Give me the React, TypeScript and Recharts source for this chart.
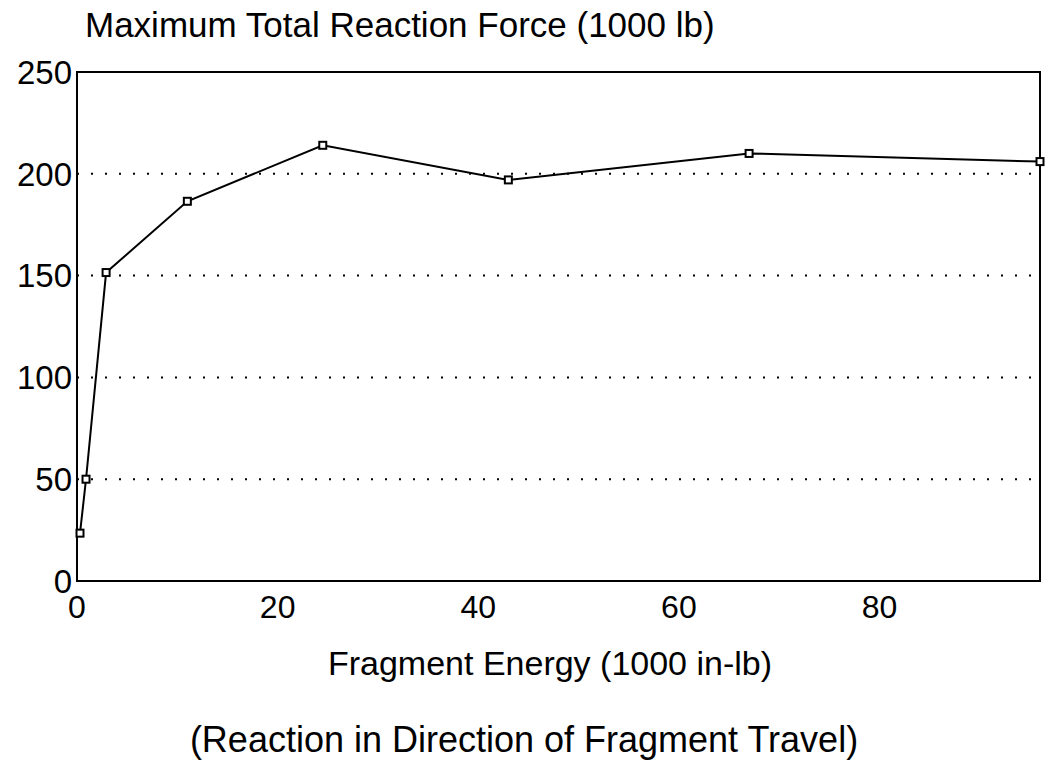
import { CartesianGrid, Line, LineChart, ReferenceArea, XAxis, YAxis } from "recharts";

const energy = [0.3, 0.9, 2.9, 11, 24.5, 43, 67, 96];
const force = [23.5, 50, 151.5, 186.5, 214, 197, 210, 206];
const xTicks = [0, 20, 40, 60, 80];
const yTicks = [0, 50, 100, 150, 200, 250];

const data = energy.map((x, i) => ({ x, y: force[i] }));

const FONT = "'Liberation Sans', Arial, Helvetica, sans-serif";

function SquareDot(props: any) {
  const { cx, cy, index } = props;
  if (cx == null || cy == null) return null;
  return (
    <rect key={index} x={cx - 3.5} y={cy - 3.5} width={7} height={7} fill="#fff" stroke="#000" strokeWidth={2} />
  );
}

export default function App() {
  return (
    <div style={{ position: "absolute", left: 0, top: 0, width: 1046, height: 772, background: "#fff", fontFamily: FONT }}>
      <div style={{ position: "absolute", left: 85, top: 7, fontSize: 35, lineHeight: 1, color: "#000", whiteSpace: "nowrap" }}>
        Maximum Total Reaction Force (1000 lb)
      </div>
      <LineChart width={1046} height={772} data={data} margin={{ top: 72, right: 6, bottom: 151, left: 0 }}>
        <CartesianGrid vertical={false} stroke="#000" strokeWidth={2} strokeDasharray="2 12" />
        <XAxis
          dataKey="x"
          type="number"
          domain={[0, 96]}
          ticks={xTicks}
          tickLine={false}
          tickSize={0}
          axisLine={{ stroke: "#000", strokeWidth: 2 }}
          tick={{ fontSize: 32, fill: "#000", fontFamily: FONT }}
          tickMargin={14}
          height={40}
        />
        <YAxis
          type="number"
          domain={[0, 250]}
          ticks={yTicks}
          tickLine={false}
          tickSize={0}
          axisLine={{ stroke: "#000", strokeWidth: 2 }}
          tick={{ fontSize: 33, fill: "#000", fontFamily: FONT }}
          tickMargin={5}
          width={77}
        />
        <ReferenceArea x1={0} x2={96} y1={0} y2={250} fill="none" stroke="#000" strokeWidth={2} ifOverflow="visible" />
        <Line dataKey="y" stroke="#000" strokeWidth={2} dot={<SquareDot />} isAnimationActive={false} />
      </LineChart>
      <div style={{ position: "absolute", left: 0, width: 1100, top: 646, textAlign: "center", fontSize: 34, lineHeight: 1, color: "#000" }}>
        Fragment Energy (1000 in-lb)
      </div>
      <div style={{ position: "absolute", left: 0, width: 1048, top: 722, textAlign: "center", fontSize: 36, lineHeight: 1, color: "#000" }}>
        (Reaction in Direction of Fragment Travel)
      </div>
    </div>
  );
}
